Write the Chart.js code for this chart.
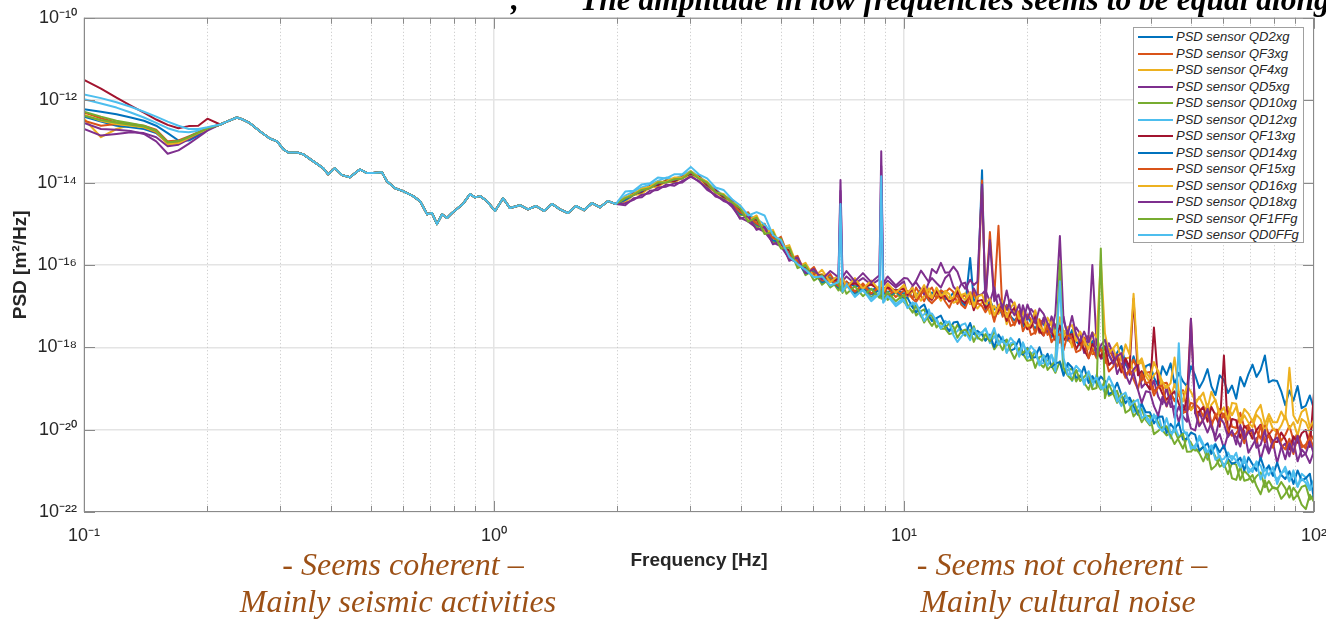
<!DOCTYPE html>
<html><head><meta charset="utf-8">
<script src="https://cdn.jsdelivr.net/npm/chart.js@4.4.1/dist/chart.umd.min.js"></script>
<style>
html,body{margin:0;padding:0;background:#fff;overflow:hidden;}
#wrap{position:relative;width:1326px;height:619px;overflow:hidden;background:#fff;}
#c{position:absolute;left:0;top:0;}
.note{position:absolute;white-space:nowrap;font-family:'Liberation Serif','Times New Roman',serif;}
.top{font-weight:bold;font-style:italic;font-size:31.5px;line-height:31.5px;color:#000;top:-16px;}
.brown{font-style:italic;font-size:32px;line-height:32px;color:#9C5016;transform:translateX(-50%);}
#legend{position:absolute;left:1133px;top:27px;width:171px;height:216px;border:1px solid #a0a0a0;background:#fff;box-sizing:border-box;}
.li{position:absolute;left:0;height:16px;line-height:16px;font-family:'Liberation Sans',Arial,sans-serif;font-style:italic;font-size:13px;color:#262626;white-space:nowrap;}
.li i{position:absolute;left:4px;top:7px;width:35px;height:2px;}
.li span{position:absolute;left:42px;top:0;}
</style></head>
<body>
<div id="wrap">
<canvas id="c" width="1326" height="619"></canvas>
<div class="note top" style="left:511px">,</div>
<div class="note top" style="left:580px">The amplitude in low frequencies seems to be equal along</div>
<div class="note brown" style="left:403px;top:548px">- Seems coherent –</div>
<div class="note brown" style="left:398px;top:585px">Mainly seismic activities</div>
<div class="note brown" style="left:1062px;top:548px">- Seems not coherent –</div>
<div class="note brown" style="left:1058px;top:585px">Mainly cultural noise</div>
<div id="legend"></div>
</div>
<script>
// ---------- DATA (log10 of PSD in m^2/Hz) ----------
const SENSORS = ['QD2xg','QF3xg','QF4xg','QD5xg','QD10xg','QD12xg','QF13xg','QD14xg','QF15xg','QD16xg','QD18xg','QF1FFg','QD0FFg'];
const COLORS  = ['#0072BD','#D95319','#EDB120','#7E2F8E','#77AC30','#4DBEEE','#A2142F','#0072BD','#D95319','#EDB120','#7E2F8E','#77AC30','#4DBEEE'];

const X_TICK_EXP = [-1, 0, 1, 2];
const Y_TICK_EXP = [-22, -20, -18, -16, -14, -12, -10];

const FREQ_LOW = [0.10,0.11,0.12,0.13,0.14,0.15,0.16,0.17,0.18,0.19,0.20];
const FREQ_MID = [0.215,0.223,0.236,0.244,0.254,0.269,0.284,0.296,0.306,0.315,
  0.331,0.342,0.362,0.383,0.394,0.409,0.426,0.445,0.471,0.490,
  0.507,0.533,0.548,0.574,0.600,0.635,0.660,0.687,0.706,0.726,
  0.747,0.768,0.790,0.817,0.840,0.874,0.899,0.925,0.961,1.006,
  1.052,1.094,1.157,1.210,1.266,1.324,1.385,1.449,1.515,1.585,
  1.658,1.734,1.814,1.897,1.984];
const FREQ_HIGH = [2.09,2.19,2.29,2.40,2.51,2.63,2.75,2.88,3.02,3.16,
  3.31,3.47,3.63,3.80,3.98,4.17,4.37,4.57,4.79,5.01,
  5.25,5.50,5.75,6.03,6.31,6.61,6.92,7.00,7.08,7.24,
  7.59,7.94,8.32,8.71,8.80,8.90,9.12,9.55,10.0,
  10.2,10.5,10.7,11.0,11.2,11.5,11.7,12.0,12.3,12.6,
  12.9,13.2,13.5,13.8,14.1,14.5,14.8,15.1,15.5,15.8,
  16.2,16.6,17.0,17.4,17.8,18.2,18.6,19.1,19.5,20.0,
  20.4,20.9,21.4,21.9,22.4,22.9,23.4,24.0,24.5,25.1,
  25.7,26.3,26.9,27.5,28.2,28.8,29.5,30.2,30.9,31.6,
  32.4,33.1,33.9,34.7,35.5,36.3,37.2,38.0,38.9,39.8,
  40.7,41.7,42.7,43.7,44.7,45.7,46.8,47.9,49.0,50.1,
  51.3,52.5,53.7,55.0,56.2,57.5,58.9,60.3,61.7,63.1,
  64.6,66.1,67.6,69.2,70.8,72.4,74.1,75.9,77.6,79.4,
  81.3,83.2,85.1,87.1,89.1,91.2,93.3,95.5,97.7,100];

// coherent part, common to all sensors
const MID_COMMON = [-12.59,-12.52,-12.42,-12.47,-12.56,-12.76,-12.93,-13.00,-13.19,-13.27,
  -13.27,-13.31,-13.48,-13.65,-13.80,-13.65,-13.82,-13.87,-13.68,-13.77,
  -13.77,-13.75,-13.97,-14.14,-14.21,-14.33,-14.45,-14.77,-14.74,-15.01,
  -14.77,-14.86,-14.74,-14.62,-14.52,-14.28,-14.36,-14.33,-14.45,-14.69,
  -14.38,-14.62,-14.55,-14.65,-14.57,-14.69,-14.52,-14.65,-14.74,-14.57,
  -14.67,-14.50,-14.60,-14.45,-14.52];

const LOW_QD2xg  = [-12.22,-12.28,-12.34,-12.42,-12.50,-12.62,-12.80,-12.98,-12.98,-12.86,-12.70];
const LOW_QF3xg  = [-12.30,-12.44,-12.54,-12.58,-12.62,-12.72,-13.00,-12.98,-12.88,-12.78,-12.69];
const LOW_QF4xg  = [-12.45,-12.90,-12.70,-12.60,-12.64,-12.76,-13.08,-13.05,-12.92,-12.80,-12.70];
const LOW_QD5xg  = [-12.70,-12.86,-12.82,-12.78,-12.80,-12.90,-13.12,-13.08,-12.95,-12.82,-12.70];
const LOW_QD10xg = [-12.28,-12.40,-12.50,-12.56,-12.62,-12.74,-13.02,-13.00,-12.90,-12.78,-12.69];
const LOW_QD12xg = [-11.98,-12.08,-12.18,-12.30,-12.42,-12.55,-12.68,-12.76,-12.78,-12.74,-12.67];
const LOW_QF13xg = [-11.51,-11.72,-11.94,-12.13,-12.30,-12.47,-12.60,-12.68,-12.63,-12.62,-12.45];
const LOW_QD14xg = [-12.40,-12.52,-12.62,-12.66,-12.70,-12.80,-13.04,-13.02,-12.90,-12.80,-12.69];
const LOW_QF15xg = [-12.50,-12.62,-12.58,-12.60,-12.66,-12.78,-13.05,-13.02,-12.91,-12.79,-12.69];
const LOW_QD16xg = [-12.35,-12.50,-12.58,-12.62,-12.66,-12.76,-13.06,-13.04,-12.92,-12.80,-12.70];
const LOW_QD18xg = [-12.55,-12.70,-12.72,-12.75,-12.82,-13.00,-13.30,-13.22,-13.06,-12.90,-12.74];
const LOW_QF1FFg = [-12.38,-12.48,-12.55,-12.60,-12.64,-12.75,-13.03,-13.00,-12.90,-12.79,-12.69];
const LOW_QD0FFg = [-11.86,-11.95,-12.05,-12.16,-12.28,-12.40,-12.52,-12.62,-12.70,-12.70,-12.66];

const HIGH_QD2xg = [-14.40,-14.25,-14.22,-14.10,-14.05,-13.95,-13.96,-13.86,-13.78,-13.86,
  -14.05,-14.20,-14.34,-14.44,-14.70,-14.82,-14.95,-15.10,-15.34,-15.44,
  -15.74,-15.92,-16.12,-16.16,-16.32,-16.30,-16.44,-16.40,-16.50,-16.42,
  -16.52,-16.50,-16.60,-16.56,-16.64,-16.58,-16.66,-16.60,-16.70,
  -16.64,-16.79,-16.75,-16.60,-16.71,-16.86,-16.67,-16.77,-16.62,-16.83,
  -16.80,-16.67,-16.74,-16.91,-16.99,-15.83,-16.88,-16.80,-13.70,-17.09,
  -16.86,-17.08,-17.01,-17.23,-16.97,-17.25,-17.35,-17.22,-17.50,-17.24,
  -17.40,-17.55,-17.35,-17.44,-17.60,-17.76,-17.49,-17.71,-17.62,-17.84,
  -17.58,-17.86,-17.96,-17.82,-17.99,-17.85,-18.19,-18.05,-17.97,-18.19,
  -18.38,-18.13,-17.97,-18.42,-18.57,-18.22,-18.57,-18.81,-18.46,-18.41,
  -18.73,-18.94,-18.46,-18.67,-18.39,-18.90,-18.62,-18.83,-18.95,-18.46,
  -18.68,-18.99,-18.81,-18.53,-18.95,-19.16,-18.68,-18.80,-19.11,-18.93,
  -19.25,-18.72,-18.95,-18.65,-18.42,-18.72,-18.55,-18.20,-18.85,-18.80,
  -18.82,-19.07,-19.41,-19.05,-19.30,-18.94,-19.48,-19.42,-19.17,-19.51];
const HIGH_QF3xg = [-14.45,-14.26,-14.25,-14.08,-14.08,-13.94,-14.00,-13.85,-13.80,-13.82,
  -14.08,-14.18,-14.38,-14.42,-14.80,-14.72,-15.10,-15.00,-15.45,-15.32,
  -15.85,-15.78,-16.22,-16.05,-16.42,-16.22,-16.55,-16.35,-16.60,-16.40,
  -16.65,-16.45,-16.70,-16.52,-16.60,-16.72,-16.55,-16.78,-16.62,
  -16.68,-16.81,-16.55,-16.75,-16.88,-16.62,-16.55,-16.81,-16.62,-16.68,
  -16.57,-16.66,-16.95,-16.78,-16.74,-16.95,-16.65,-16.94,-13.95,-16.86,
  -15.20,-16.77,-15.05,-17.26,-16.98,-17.26,-17.47,-17.19,-17.32,-17.20,
  -17.32,-17.67,-17.39,-17.34,-17.70,-17.58,-17.45,-17.89,-17.60,-17.80,
  -17.93,-17.66,-17.94,-17.83,-17.72,-18.17,-18.14,-18.02,-18.39,-18.04,
  -18.26,-18.47,-18.21,-18.66,-18.56,-18.30,-18.59,-18.81,-18.62,-18.60,
  -19.07,-18.97,-18.88,-18.86,-19.09,-19.31,-19.14,-19.04,-19.51,-19.49,
  -19.37,-19.48,-19.68,-19.39,-19.83,-19.71,-19.50,-19.70,-19.49,-19.93,
  -19.96,-19.59,-19.94,-19.89,-19.76,-20.03,-20.22,-19.85,-20.12,-19.99,
  -20.01,-20.27,-20.13,-19.91,-20.25,-20.10,-20.36,-20.46,-20.08,-20.26];
const HIGH_QF4xg = [-14.48,-14.30,-14.28,-14.12,-14.10,-13.98,-14.00,-13.88,-13.84,-13.88,
  -14.12,-14.22,-14.40,-14.46,-14.70,-14.92,-14.95,-15.22,-15.30,-15.55,
  -15.70,-16.00,-16.05,-16.28,-16.22,-16.40,-16.30,-16.48,-16.35,-16.52,
  -16.40,-16.58,-16.45,-16.62,-16.50,-16.60,-16.48,-16.66,-16.52,
  -16.81,-16.63,-16.69,-16.87,-16.75,-16.57,-16.81,-16.69,-16.87,-16.63,
  -16.71,-16.92,-16.88,-16.73,-16.69,-16.95,-16.92,-17.06,-16.91,-16.81,
  -17.19,-16.99,-17.19,-16.99,-17.44,-17.16,-17.12,-17.40,-17.12,-17.56,
  -17.43,-17.30,-17.66,-17.61,-17.48,-17.35,-17.78,-17.58,-17.77,-17.56,
  -18.00,-17.72,-17.68,-17.96,-17.85,-18.13,-17.77,-18.05,-18.25,-18.05,
  -18.03,-18.32,-18.54,-18.27,-18.25,-18.63,-18.44,-18.34,-18.71,-18.85,
  -18.67,-18.57,-19.03,-18.93,-19.23,-18.89,-19.19,-19.09,-19.07,-19.53,
  -19.41,-19.20,-19.40,-19.67,-19.39,-19.27,-19.70,-19.66,-19.45,-19.65,
  -19.44,-19.86,-19.65,-19.83,-19.94,-19.64,-19.75,-20.09,-19.72,-19.98,
  -20.06,-19.90,-19.66,-19.98,-19.82,-20.14,-19.74,-19.82,-20.06,-19.82];
const HIGH_QD5xg = [-14.50,-14.42,-14.30,-14.26,-14.12,-14.10,-14.02,-14.00,-13.84,-13.98,
  -14.12,-14.34,-14.40,-14.58,-14.85,-14.95,-15.10,-15.20,-15.45,-15.55,
  -15.85,-15.95,-16.12,-16.22,-16.28,-16.35,-16.32,-14.20,-16.40,-16.28,
  -16.45,-16.32,-16.48,-16.35,-13.60,-16.50,-16.38,-16.55,-16.40,
  -16.75,-16.51,-16.42,-16.60,-16.72,-16.42,-16.32,-16.44,-16.55,-16.32,
  -16.22,-16.53,-16.64,-16.46,-16.43,-16.82,-16.57,-16.75,-16.71,-16.61,
  -16.90,-16.55,-17.09,-16.94,-17.09,-16.84,-16.99,-17.43,-16.98,-17.33,
  -17.07,-17.20,-17.64,-17.28,-17.62,-17.25,-17.49,-17.63,-17.26,-17.80,
  -17.76,-17.52,-17.68,-18.14,-17.70,-16.00,-17.92,-18.28,-18.24,-17.90,
  -18.17,-18.65,-18.42,-18.29,-18.67,-18.54,-18.41,-18.98,-18.86,-19.03,
  -18.81,-19.20,-19.38,-18.97,-19.45,-19.43,-19.82,-19.40,-19.59,-19.97,
  -20.02,-19.57,-19.82,-20.07,-19.82,-20.27,-20.11,-20.46,-20.11,-20.06,
  -20.18,-20.41,-20.03,-20.56,-20.38,-20.20,-20.73,-20.35,-20.58,-20.30,
  -20.81,-20.42,-20.34,-20.65,-20.26,-20.77,-20.48,-20.60,-20.81,-20.52];
const HIGH_QD10xg = [-14.42,-14.26,-14.24,-14.08,-14.06,-13.95,-13.98,-13.85,-13.80,-13.84,
  -14.08,-14.18,-14.37,-14.42,-14.80,-14.75,-15.08,-15.02,-15.45,-15.36,
  -15.85,-15.84,-16.25,-16.12,-16.48,-16.32,-16.62,-16.42,-16.68,-16.48,
  -16.74,-16.52,-16.80,-16.58,-16.82,-16.62,-16.85,-16.66,-16.90,
  -17.00,-16.95,-17.23,-17.12,-17.08,-17.37,-17.48,-17.32,-17.55,-17.55,
  -17.68,-17.65,-17.45,-17.64,-17.72,-17.57,-17.87,-17.67,-17.64,-17.83,
  -17.75,-18.05,-17.90,-17.81,-18.12,-17.97,-17.88,-18.18,-18.16,-18.33,
  -18.31,-18.09,-18.39,-18.49,-18.28,-18.45,-18.62,-18.34,-18.64,-18.55,
  -18.52,-18.83,-18.68,-18.86,-19.03,-18.74,-18.86,-19.03,-18.82,-19.18,
  -19.12,-19.06,-19.40,-19.15,-19.35,-19.68,-19.55,-19.50,-19.77,-19.90,
  -19.64,-19.83,-20.02,-20.14,-20.08,-20.01,-20.27,-20.46,-20.19,-20.32,
  -20.51,-20.49,-20.42,-20.73,-20.47,-20.66,-20.90,-20.83,-21.08,-20.81,
  -20.85,-21.22,-21.00,-21.10,-21.28,-21.13,-21.04,-21.40,-21.25,-21.42,
  -21.44,-21.27,-21.42,-21.65,-21.41,-21.56,-21.39,-21.35,-21.70,-21.59];
const HIGH_QD12xg = [-14.32,-14.22,-14.12,-14.05,-13.96,-13.88,-13.92,-13.82,-13.72,-13.85,
  -14.00,-14.16,-14.32,-14.40,-14.66,-14.78,-14.88,-15.02,-15.25,-15.50,
  -15.70,-15.92,-16.10,-16.22,-16.35,-16.40,-16.50,-14.70,-16.62,-16.45,
  -16.75,-16.62,-16.82,-16.68,-14.10,-16.90,-16.72,-16.95,-16.80,
  -17.04,-16.91,-17.03,-17.26,-17.20,-17.08,-17.37,-17.31,-17.54,-17.36,
  -17.44,-17.65,-17.61,-17.46,-17.42,-17.68,-17.65,-17.79,-17.64,-17.54,
  -17.90,-17.73,-17.91,-17.74,-18.14,-17.90,-17.87,-18.12,-17.88,-18.27,
  -18.17,-18.08,-18.40,-18.38,-18.28,-18.18,-18.58,-17.40,-18.60,-18.43,
  -18.82,-18.59,-18.56,-18.81,-18.72,-18.97,-18.66,-18.91,-19.10,-18.93,
  -18.93,-19.22,-19.43,-19.22,-19.23,-19.58,-19.44,-19.37,-19.73,-19.87,
  -19.71,-19.63,-20.03,-19.94,-20.21,-19.91,-20.17,-20.08,-20.07,-20.47,
  -20.38,-20.22,-20.40,-20.66,-20.43,-20.34,-20.74,-20.71,-20.55,-20.74,
  -20.56,-20.94,-20.76,-20.93,-21.03,-20.77,-20.87,-21.18,-20.86,-21.10,
  -21.20,-21.08,-20.90,-21.20,-21.09,-21.39,-21.07,-21.16,-21.40,-21.21];
const HIGH_QF13xg = [-14.41,-14.27,-14.23,-14.09,-14.06,-13.96,-13.97,-13.86,-13.79,-13.85,
  -14.06,-14.19,-14.35,-14.43,-14.65,-14.90,-14.90,-15.20,-15.28,-15.52,
  -15.65,-16.00,-16.05,-16.25,-16.25,-16.40,-16.35,-16.46,-16.42,-16.50,
  -16.45,-16.55,-16.48,-16.60,-16.52,-16.58,-16.55,-16.62,-16.58,
  -16.71,-16.59,-16.84,-16.66,-16.54,-16.79,-16.85,-16.63,-16.80,-16.75,
  -16.89,-16.86,-16.64,-16.85,-16.93,-16.77,-17.10,-16.88,-16.85,-17.05,
  -16.95,-17.31,-17.11,-16.99,-17.36,-17.16,-17.04,-17.40,-17.36,-17.56,
  -17.52,-17.24,-17.60,-17.72,-17.44,-17.63,-17.83,-17.47,-17.83,-17.71,
  -17.68,-18.05,-17.85,-18.06,-18.27,-17.92,-18.05,-18.25,-17.98,-18.43,
  -18.33,-18.23,-18.61,-18.27,-18.49,-16.82,-18.68,-18.58,-18.88,-19.02,
  -17.52,-18.90,-19.13,-19.27,-19.17,-19.07,-19.37,-19.60,-19.26,-17.31,
  -19.60,-19.56,-19.45,-19.81,-19.45,-19.65,-19.93,-18.20,-20.10,-19.74,
  -19.77,-20.20,-19.91,-20.02,-20.22,-20.01,-19.88,-20.31,-20.10,-20.29,
  -20.30,-20.07,-20.23,-20.48,-20.16,-20.32,-20.09,-20.01,-20.42,-19.10];
const HIGH_QD14xg = [-14.42,-14.30,-14.20,-14.13,-14.02,-13.99,-13.93,-13.89,-13.75,-13.89,
  -14.02,-14.23,-14.31,-14.47,-14.75,-14.80,-15.02,-15.10,-15.40,-15.45,
  -15.80,-15.92,-16.20,-16.18,-16.42,-16.35,-16.55,-16.45,-16.62,-16.50,
  -16.68,-16.55,-16.72,-16.60,-16.75,-16.62,-16.78,-16.65,-16.80,
  -16.80,-17.04,-17.15,-17.02,-16.96,-17.25,-17.36,-17.29,-17.23,-17.46,
  -17.61,-17.40,-17.38,-17.59,-17.68,-17.41,-17.68,-17.60,-17.69,-17.84,
  -17.69,-18.00,-17.69,-17.86,-17.83,-18.08,-18.04,-17.80,-18.18,-18.01,
  -18.26,-18.24,-18.00,-18.33,-18.16,-18.48,-18.39,-18.36,-18.69,-18.38,
  -18.49,-18.74,-18.71,-18.47,-18.87,-18.70,-18.88,-18.71,-18.82,-19.14,
  -19.07,-18.86,-19.15,-19.36,-19.22,-19.43,-19.64,-19.37,-19.58,-19.58,
  -19.85,-19.69,-19.68,-20.08,-19.86,-19.99,-19.83,-20.24,-20.22,-20.07,
  -20.12,-20.52,-20.42,-20.33,-20.59,-20.36,-20.55,-20.38,-20.71,-20.83,
  -20.79,-20.68,-20.99,-20.67,-20.84,-21.00,-20.68,-20.99,-20.88,-21.12,
  -20.80,-21.10,-21.20,-21.01,-21.32,-20.99,-21.23,-21.18,-21.07,-21.70];
const HIGH_QF15xg = [-14.38,-14.30,-14.18,-14.14,-14.00,-14.00,-13.92,-13.90,-13.74,-13.90,
  -14.02,-14.25,-14.30,-14.50,-14.72,-14.82,-15.00,-15.10,-15.35,-15.42,
  -15.75,-15.90,-16.15,-16.20,-16.38,-16.35,-16.52,-16.42,-16.60,-16.48,
  -16.65,-16.50,-16.70,-16.55,-16.72,-16.58,-16.75,-16.62,-16.78,
  -16.63,-16.83,-16.90,-16.72,-16.60,-16.86,-16.93,-16.81,-16.68,-16.89,
  -17.04,-16.80,-16.75,-16.97,-17.05,-16.74,-17.03,-16.92,-17.00,-17.15,
  -16.98,-17.38,-16.98,-17.20,-17.16,-17.48,-17.43,-17.12,-17.61,-17.39,
  -17.70,-17.64,-17.32,-17.71,-17.48,-17.88,-17.73,-17.68,-18.07,-17.66,
  -17.80,-18.12,-18.07,-17.76,-18.26,-18.04,-18.27,-18.04,-18.18,-18.59,
  -18.47,-18.17,-18.50,-18.74,-18.54,-18.78,-19.02,-18.63,-18.87,-18.84,
  -19.17,-18.96,-18.93,-19.44,-19.14,-19.29,-19.08,-19.59,-19.56,-19.35,
  -19.39,-19.89,-19.75,-19.62,-19.93,-19.61,-19.84,-19.61,-20.02,-20.15,
  -20.09,-19.94,-20.33,-19.91,-20.12,-20.32,-19.90,-20.29,-20.14,-20.44,
  -20.00,-20.37,-20.48,-20.22,-20.59,-20.15,-20.43,-20.36,-20.19,-20.47];
const HIGH_QD16xg = [-14.36,-14.28,-14.15,-14.10,-13.98,-13.98,-13.88,-13.88,-13.72,-13.88,
  -13.98,-14.24,-14.28,-14.48,-14.55,-14.92,-14.80,-15.22,-15.15,-15.58,
  -15.52,-16.05,-15.95,-16.30,-16.12,-16.42,-16.25,-16.50,-16.30,-16.55,
  -16.32,-16.58,-16.38,-16.62,-16.40,-16.65,-16.45,-16.68,-16.48,
  -16.68,-16.55,-16.81,-16.62,-16.49,-16.75,-16.81,-16.55,-16.75,-16.68,
  -16.83,-16.79,-16.54,-16.76,-16.85,-16.66,-17.01,-16.77,-16.72,-16.94,
  -16.82,-17.23,-17.00,-16.87,-17.27,-17.04,-16.91,-17.31,-17.27,-17.49,
  -17.43,-17.10,-17.49,-17.61,-17.28,-17.48,-17.69,-17.27,-17.66,-17.51,
  -17.46,-17.85,-17.62,-17.83,-18.05,-17.64,-17.76,-15.90,-17.65,-18.14,
  -18.02,-17.90,-18.32,-17.93,-18.18,-16.70,-18.39,-18.27,-18.60,-18.75,
  -18.36,-18.60,-18.84,-18.99,-18.87,-18.25,-19.08,-19.32,-18.93,-19.08,
  -19.30,-19.24,-19.10,-19.49,-19.08,-19.30,-19.60,-19.46,-19.76,-19.35,
  -19.37,-19.84,-19.50,-19.61,-19.81,-19.56,-19.40,-19.87,-19.62,-19.82,
  -19.82,-19.56,-19.75,-18.50,-19.66,-19.84,-19.57,-19.49,-19.94,-19.77];
const HIGH_QD18xg = [-14.55,-14.38,-14.36,-14.20,-14.18,-14.05,-14.08,-13.96,-13.86,-13.96,
  -14.18,-14.30,-14.45,-14.52,-14.88,-14.82,-15.15,-15.08,-15.50,-15.42,
  -15.90,-15.82,-16.20,-16.10,-16.35,-16.15,-16.30,-13.94,-16.30,-16.15,
  -16.40,-16.20,-16.42,-16.25,-13.24,-16.45,-16.28,-16.50,-16.32,
  -16.33,-16.50,-16.39,-16.14,-16.25,-16.42,-16.10,-16.20,-15.95,-16.19,
  -16.18,-16.04,-16.17,-16.44,-16.58,-16.36,-16.49,-16.41,-14.05,-16.89,
  -15.40,-16.88,-16.72,-17.07,-16.62,-17.07,-17.22,-16.96,-17.41,-16.96,
  -17.19,-17.42,-17.06,-17.19,-17.42,-17.65,-17.18,-15.30,-17.35,-17.68,
  -17.24,-17.70,-17.86,-17.62,-17.88,-17.64,-18.20,-17.96,-17.82,-18.18,
  -18.40,-18.22,-18.14,-18.66,-18.89,-18.61,-19.03,-19.35,-19.07,-19.09,
  -19.43,-19.66,-19.20,-19.43,-19.17,-19.71,-19.44,-19.68,-19.81,-17.31,
  -19.59,-19.92,-19.76,-19.50,-19.94,-20.17,-19.71,-19.85,-20.18,-20.02,
  -20.36,-19.89,-20.23,-20.06,-20.00,-20.44,-20.37,-20.01,-20.54,-20.28,
  -20.19,-20.40,-20.72,-20.33,-20.54,-20.15,-20.66,-20.58,-20.29,-20.60];
const HIGH_QF1FFg = [-14.38,-14.30,-14.18,-14.14,-14.00,-14.00,-13.92,-13.90,-13.74,-13.90,
  -14.00,-14.24,-14.30,-14.48,-14.62,-14.95,-14.85,-15.25,-15.20,-15.60,
  -15.58,-16.08,-16.00,-16.38,-16.25,-16.55,-16.40,-16.62,-16.48,-16.70,
  -16.52,-16.76,-16.58,-16.80,-16.62,-16.84,-16.66,-16.88,-16.72,
  -16.98,-17.16,-16.98,-17.22,-17.40,-17.22,-17.22,-17.52,-17.40,-17.52,
  -17.42,-17.50,-17.77,-17.61,-17.57,-17.77,-17.49,-17.76,-17.84,-17.68,
  -17.86,-17.61,-17.87,-18.07,-17.81,-18.08,-18.28,-18.02,-18.14,-18.03,
  -18.15,-18.50,-18.24,-18.20,-18.55,-18.44,-18.33,-15.90,-18.50,-18.69,
  -18.80,-18.55,-18.82,-18.72,-18.61,-19.02,-18.99,-15.60,-19.24,-18.90,
  -19.13,-19.35,-19.13,-19.59,-19.52,-19.29,-19.59,-19.82,-19.67,-19.67,
  -20.11,-20.03,-19.94,-19.92,-20.14,-20.35,-20.19,-20.10,-20.54,-20.53,
  -20.44,-20.57,-20.77,-20.53,-20.97,-20.88,-20.71,-20.91,-20.75,-21.18,
  -21.22,-20.90,-21.24,-21.21,-21.10,-21.37,-21.57,-21.23,-21.51,-21.40,
  -21.43,-21.68,-21.56,-21.37,-21.70,-21.57,-21.82,-21.93,-21.58,-21.76];
const HIGH_QD0FFg = [-14.22,-14.20,-14.05,-14.02,-13.88,-13.90,-13.80,-13.80,-13.62,-13.80,
  -13.90,-14.12,-14.18,-14.40,-14.55,-14.80,-14.72,-14.80,-15.28,-15.40,
  -15.80,-15.98,-16.12,-16.30,-16.28,-16.50,-16.42,-14.52,-16.65,-16.48,
  -16.78,-16.60,-16.88,-16.70,-13.85,-16.92,-16.75,-17.00,-16.85,
  -17.05,-16.93,-16.93,-17.17,-17.36,-17.18,-17.18,-17.36,-17.54,-17.42,
  -17.37,-17.71,-17.87,-17.74,-17.63,-17.83,-17.54,-17.68,-17.65,-17.55,
  -17.79,-17.53,-17.94,-17.83,-17.96,-17.77,-17.89,-18.23,-17.89,-18.16,
  -17.97,-18.10,-18.44,-18.19,-18.45,-18.19,-18.39,-16.40,-18.26,-18.67,
  -18.64,-18.45,-18.57,-18.91,-18.58,-18.85,-18.74,-19.00,-18.97,-18.71,
  -18.94,-19.32,-19.17,-19.10,-19.41,-19.34,-19.27,-19.72,-19.65,-19.81,
  -19.63,-19.92,-20.04,-19.72,-20.08,-20.05,-17.90,-20.00,-20.14,-20.41,
  -20.46,-20.15,-20.35,-20.55,-20.38,-20.73,-20.63,-20.91,-20.67,-20.64,
  -20.75,-20.92,-20.65,-21.05,-20.93,-20.80,-21.21,-20.94,-21.11,-20.91,
  -21.32,-21.05,-21.00,-21.26,-20.99,-21.38,-21.19,-21.29,-21.47,-21.28];

const SERIES_LOW  = [LOW_QD2xg,LOW_QF3xg,LOW_QF4xg,LOW_QD5xg,LOW_QD10xg,LOW_QD12xg,LOW_QF13xg,LOW_QD14xg,LOW_QF15xg,LOW_QD16xg,LOW_QD18xg,LOW_QF1FFg,LOW_QD0FFg];
const SERIES_HIGH = [HIGH_QD2xg,HIGH_QF3xg,HIGH_QF4xg,HIGH_QD5xg,HIGH_QD10xg,HIGH_QD12xg,HIGH_QF13xg,HIGH_QD14xg,HIGH_QF15xg,HIGH_QD16xg,HIGH_QD18xg,HIGH_QF1FFg,HIGH_QD0FFg];

// ---------- helpers ----------
const SUP = {'-':'\u207B','0':'\u2070','1':'\u00B9','2':'\u00B2','3':'\u00B3','4':'\u2074','5':'\u2075','6':'\u2076','7':'\u2077','8':'\u2078','9':'\u2079'};
const supLabel = e => '10' + String(e).split('').map(ch => SUP[ch]).join('');
const isDecade = v => Math.abs(Math.log10(v) - Math.round(Math.log10(v))) < 1e-6;
const X_GRID = [];
for (let k = 0; k < X_TICK_EXP.length; k++) {
  const d = Math.pow(10, X_TICK_EXP[k]);
  if (k === X_TICK_EXP.length - 1) { X_GRID.push(d); break; }
  for (let m = 1; m <= 9; m++) X_GRID.push(m * d);
}

const FREQ_ALL = FREQ_LOW.concat(FREQ_MID, FREQ_HIGH);
const datasets = SENSORS.map((name, i) => {
  const logs = SERIES_LOW[i].concat(MID_COMMON, SERIES_HIGH[i]);
  const n = Math.min(FREQ_ALL.length, logs.length);
  const pts = [];
  for (let k = 0; k < n; k++) pts.push({x: FREQ_ALL[k], y: Math.pow(10, logs[k])});
  return {
    label: 'PSD sensor ' + name,
    data: pts,
    borderColor: COLORS[i],
    backgroundColor: COLORS[i],
    borderWidth: 2,
    pointRadius: 0,
    pointHitRadius: 0,
    tension: 0,
    fill: false,
    borderJoinStyle: 'round',
    order: SENSORS.length - i
  };
});

// MATLAB style box, inward ticks and dotted minor grid
const matlabAxes = {
  id: 'matlabAxes',
  beforeDatasetsDraw(chart) {
    const {ctx, chartArea: a, scales: {x}} = chart;
    ctx.save();
    ctx.strokeStyle = '#c4c4c4'; ctx.lineWidth = 1; ctx.setLineDash([1, 2.5]);
    x.ticks.forEach(t => {
      if (isDecade(t.value)) return;
      const p = Math.round(x.getPixelForValue(t.value)) + 0.5;
      ctx.beginPath(); ctx.moveTo(p, a.top); ctx.lineTo(p, a.bottom); ctx.stroke();
    });
    ctx.restore();
  },
  afterDatasetsDraw(chart) {
    const {ctx, chartArea: a, scales: {x, y}} = chart;
    ctx.save();
    ctx.strokeStyle = '#8a8a8a'; ctx.lineWidth = 1;
    ctx.strokeRect(a.left + 0.5, a.top + 0.5, a.right - a.left - 1, a.bottom - a.top - 1);
    ctx.beginPath();
    x.ticks.forEach(t => {
      const p = Math.round(x.getPixelForValue(t.value)) + 0.5;
      const len = isDecade(t.value) ? 11 : 6;
      ctx.moveTo(p, a.bottom); ctx.lineTo(p, a.bottom - len);
      ctx.moveTo(p, a.top); ctx.lineTo(p, a.top + len);
    });
    y.ticks.forEach(t => {
      const p = Math.round(y.getPixelForValue(t.value)) + 0.5;
      ctx.moveTo(a.left, p); ctx.lineTo(a.left + 11, p);
      ctx.moveTo(a.right, p); ctx.lineTo(a.right - 11, p);
    });
    ctx.stroke();
    ctx.restore();
  }
};

Chart.defaults.font.family = "'Liberation Sans', Arial, Helvetica, sans-serif";
Chart.defaults.color = '#262626';

const chart = new Chart(document.getElementById('c'), {
  type: 'line',
  data: {datasets},
  options: {
    responsive: false,
    animation: false,
    devicePixelRatio: 1,
    events: [],
    layout: {padding: {left: 0, top: 16, right: 12, bottom: 43}},
    plugins: {legend: {display: false}, tooltip: {enabled: false}},
    scales: {
      x: {
        type: 'logarithmic', min: 0.1, max: 100,
        afterBuildTicks: s => { s.ticks = X_GRID.map(v => ({value: v})); },
        afterFit: s => { s.height = 64; s.paddingLeft = 0; s.paddingRight = 0; },
        ticks: {
          autoSkip: false, maxRotation: 0, padding: 13,
          font: {size: 18}, color: '#262626',
          callback: v => isDecade(v) ? supLabel(Math.round(Math.log10(v))) : ''
        },
        grid: {
          drawTicks: false, lineWidth: 1.5,
          color: c => (c.tick && isDecade(c.tick.value)) ? '#e4e4e4' : 'rgba(0,0,0,0)'
        },
        border: {display: false},
        title: {display: true, text: 'Frequency [Hz]', font: {size: 19, weight: 'bold'}, color: '#262626', padding: {top: 4, bottom: 4}}
      },
      y: {
        type: 'logarithmic', min: 1e-22, max: 1e-10,
        afterBuildTicks: s => { s.ticks = Y_TICK_EXP.map(e => ({value: Math.pow(10, e)})); },
        afterFit: s => { s.width = 84; },
        ticks: {
          autoSkip: false, padding: 7, font: {size: 18}, color: '#262626',
          callback: v => supLabel(Math.round(Math.log10(v)))
        },
        grid: {drawTicks: false, lineWidth: 1.5, color: '#e4e4e4'},
        border: {display: false},
        title: {display: true, text: 'PSD [m\u00B2/Hz]', font: {size: 19, weight: 'bold'}, color: '#262626', padding: {top: 9, bottom: 0}}
      }
    }
  },
  plugins: [matlabAxes]
});

// legend (built from the same sensor names and colours)
const lg = document.getElementById('legend');
SENSORS.forEach((name, i) => {
  const row = document.createElement('div');
  row.className = 'li';
  row.style.top = (1 + 16.5 * i) + 'px';
  row.innerHTML = '<i style="background:' + COLORS[i] + '"></i><span>PSD sensor ' + name + '</span>';
  lg.appendChild(row);
});
</script>
</body></html>
